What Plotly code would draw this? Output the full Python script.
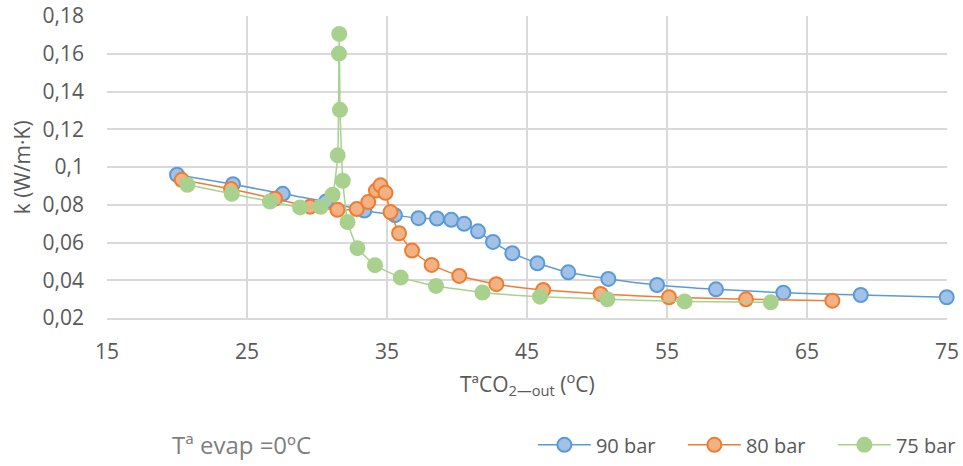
import plotly.graph_objects as go

# ---- data ----
x90 = [20.0, 24.0, 27.55, 30.64, 33.38, 35.57, 37.25, 38.57, 39.59, 40.51, 41.5, 42.57,
       43.95, 45.74, 47.95, 50.81, 54.29, 58.5, 63.31, 68.84, 74.98]
y90 = [0.0959, 0.0909, 0.0858, 0.0817, 0.0769, 0.0745, 0.0729, 0.0727, 0.0720, 0.0699, 0.0659, 0.0603,
       0.0543, 0.0490, 0.0442, 0.0407, 0.0375, 0.0352, 0.0334, 0.0322, 0.0310]

x80 = [20.34, 23.86, 27.0, 29.5, 31.46, 32.84, 33.66, 34.21, 34.54, 34.89, 35.25, 35.86,
       36.79, 38.19, 40.16, 42.81, 46.16, 50.26, 55.14, 60.64, 66.81]
y80 = [0.0932, 0.0883, 0.0832, 0.0790, 0.0773, 0.0777, 0.0814, 0.0875, 0.0903, 0.0863, 0.0761, 0.0649,
       0.0557, 0.0481, 0.0423, 0.0379, 0.0349, 0.0327, 0.0310, 0.0299, 0.0292]

x75 = [20.74, 23.91, 26.64, 28.79, 30.26, 31.11, 31.48, 31.57, 31.59, 31.64, 31.84, 32.18,
       32.89, 34.14, 35.98, 38.5, 41.82, 45.93, 50.74, 56.26, 62.41]
y75 = [0.0906, 0.0858, 0.0817, 0.0786, 0.0789, 0.0853, 0.1062, 0.1601, 0.1705, 0.1303, 0.0927, 0.0708,
       0.0570, 0.0480, 0.0414, 0.0370, 0.0335, 0.0313, 0.0299, 0.0288, 0.0283]

series_names = ["90 bar", "80 bar", "75 bar"]
x_ticks = [15, 25, 35, 45, 55, 65, 75]
y_ticks = [0.02, 0.04, 0.06, 0.08, 0.1, 0.12, 0.14, 0.16, 0.18]
y_ticktext = ["0,02", "0,04", "0,06", "0,08", "0,1", "0,12", "0,14", "0,16", "0,18"]

FONT = "Open Sans"
GRAY = "#595959"

styles = [
    dict(line="#5B9BD5", fill="#A2C1E7", border="#5B9BD5"),
    dict(line="#ED7D31", fill="#F4B183", border="#ED7D31"),
    dict(line="#A9D18E", fill="#A9D18E", border="#A9D18E"),
]

fig = go.Figure()
for name, xs, ys, st in zip(series_names, [x90, x80, x75], [y90, y80, y75], styles):
    fig.add_trace(go.Scatter(
        x=xs, y=ys, name=name, mode="lines+markers",
        line=dict(color=st["line"], width=1.5, shape="spline", smoothing=0.4),
        marker=dict(size=14, color=st["fill"], line=dict(color=st["border"], width=2)),
        cliponaxis=False,
    ))

fig.update_layout(
    width=963, height=466,
    margin=dict(l=107, r=16, t=16, b=148, autoexpand=False),
    plot_bgcolor="white", paper_bgcolor="white",
    separators=", ",
    font=dict(family=FONT, size=20, color=GRAY),
    showlegend=True,
    legend=dict(orientation="h", x=0.507, xanchor="left", y=-0.42, yanchor="middle",
                font=dict(family=FONT, size=20, color=GRAY), itemwidth=53,
                entrywidth=82, entrywidthmode="pixels",
                bgcolor="rgba(0,0,0,0)"),
    xaxis=dict(range=[15, 75], tickvals=x_ticks, showgrid=True, gridcolor="#D9D9D9", gridwidth=1.5,
               zeroline=False, showline=True, linecolor="#D9D9D9", linewidth=1.5,
               ticks="", ticklabelstandoff=14, tickfont=dict(size=21, color=GRAY)),
    yaxis=dict(range=[0.02, 0.18], tickvals=y_ticks, ticktext=y_ticktext, showgrid=True,
               gridcolor="#D9D9D9", gridwidth=1.5, zeroline=False, showline=False,
               ticks="", ticklabelstandoff=22, tickfont=dict(size=21, color=GRAY)),
    annotations=[
        dict(text="TªCO<sub>2—out</sub> (<sup>o</sup>C)", xref="paper", yref="paper",
             x=0.5, y=-0.2185, xanchor="center", yanchor="middle", showarrow=False,
             font=dict(size=21, color=GRAY)),
        dict(text="k (W/m·K)", xref="paper", yref="paper", x=-0.101, y=0.5,
             xanchor="center", yanchor="middle", textangle=-90, showarrow=False,
             font=dict(size=21, color=GRAY)),
        dict(text="Tª evap =0ºC", xref="paper", yref="paper", x=0.1607, y=-0.42,
             xanchor="center", yanchor="middle", showarrow=False,
             font=dict(size=24, color="#7F7F7F")),
    ],
)

fig.write_html("out.html")
